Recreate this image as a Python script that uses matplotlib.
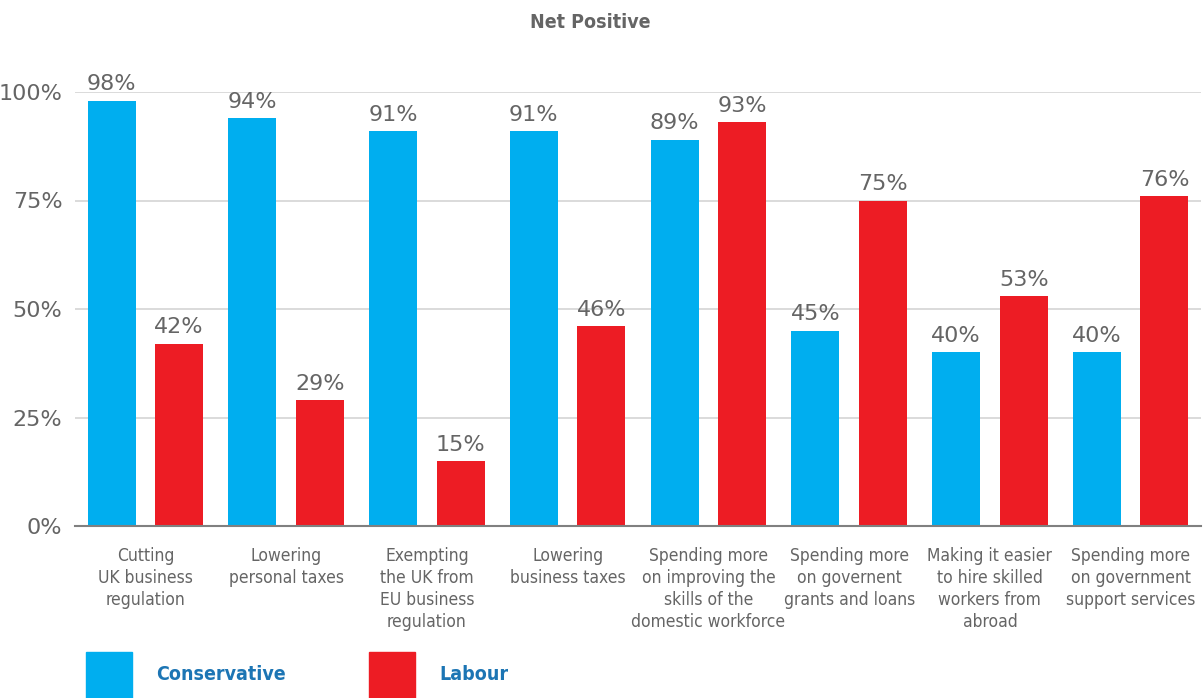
import numpy as np
import matplotlib
matplotlib.use("Agg")
from matplotlib import pyplot as plt
from matplotlib.patches import Rectangle

# data
categories = [
    "Cutting\nUK business\nregulation",
    "Lowering\npersonal taxes",
    "Exempting\nthe UK from\nEU business\nregulation",
    "Lowering\nbusiness taxes",
    "Spending more\non improving the\nskills of the\ndomestic workforce",
    "Spending more\non governent\ngrants and loans",
    "Making it easier\nto hire skilled\nworkers from\nabroad",
    "Spending more\non government\nsupport services",
]
conservative = [98, 94, 91, 91, 89, 45, 40, 40]
labour = [42, 29, 15, 46, 93, 75, 53, 76]
yticks = [0, 25, 50, 75, 100]
series_names = ["Conservative", "Labour"]

blue = "#00AEEF"
red = "#ED1C24"
grey = "#656565"
legendblue = "#1C75B4"

fig = plt.figure(figsize=(12.03, 6.98), dpi=100)
ax = fig.add_axes([75 / 1203, 172 / 698, 1126 / 1203, 434 / 698])

x = np.arange(len(categories))
off = 0.24
w = 0.34
bars1 = ax.bar(x - off, conservative, w, color=blue, zorder=3)
bars2 = ax.bar(x + off, labour, w, color=red, zorder=3)

# value labels over each bar
for bars, vals in [(bars1, conservative), (bars2, labour)]:
    for b, v in zip(bars, vals):
        ax.annotate(f"{v}%", (b.get_x() + b.get_width() / 2, v),
                    xytext=(0, 4.5), textcoords="offset points",
                    ha="center", va="bottom", fontsize=16, color=grey,
                    clip_on=False)

ax.set_xlim(-0.5, len(categories) - 0.5)
ax.set_ylim(0, 100)
ax.set_yticks(yticks)
ax.set_yticklabels([f"{t}%" for t in yticks], fontsize=16, color=grey)
ax.tick_params(axis="y", length=0, pad=9)
ax.set_xticks(x)
ax.set_xticklabels(categories, fontsize=12.5, color=grey,
                   fontstretch="condensed", linespacing=1.3)
ax.tick_params(axis="x", length=0, pad=15)

ax.grid(axis="y", color="#d4d4d4", linewidth=1.2, zorder=0)
for s in ["top", "right", "left"]:
    ax.spines[s].set_visible(False)
ax.spines["bottom"].set_color("#808080")
ax.spines["bottom"].set_linewidth(1.5)
ax.spines["bottom"].set_zorder(4)

fig.text(590 / 1203, 1 - 22 / 698, "Net Positive", ha="center", va="center",
         fontsize=14, fontweight="bold", color=grey, fontstretch="condensed")

# legend squares and names
for name, col, sx, tx in [(series_names[0], blue, 86, 156),
                          (series_names[1], red, 369, 439)]:
    fig.add_artist(Rectangle((sx / 1203, 0), 46 / 1203, 46 / 698,
                             transform=fig.transFigure, color=col))
    fig.text(tx / 1203, 23 / 698, name, ha="left", va="center",
             fontsize=14, fontweight="bold", color=legendblue,
             fontstretch="condensed")

fig.savefig("out.png", dpi=100)
